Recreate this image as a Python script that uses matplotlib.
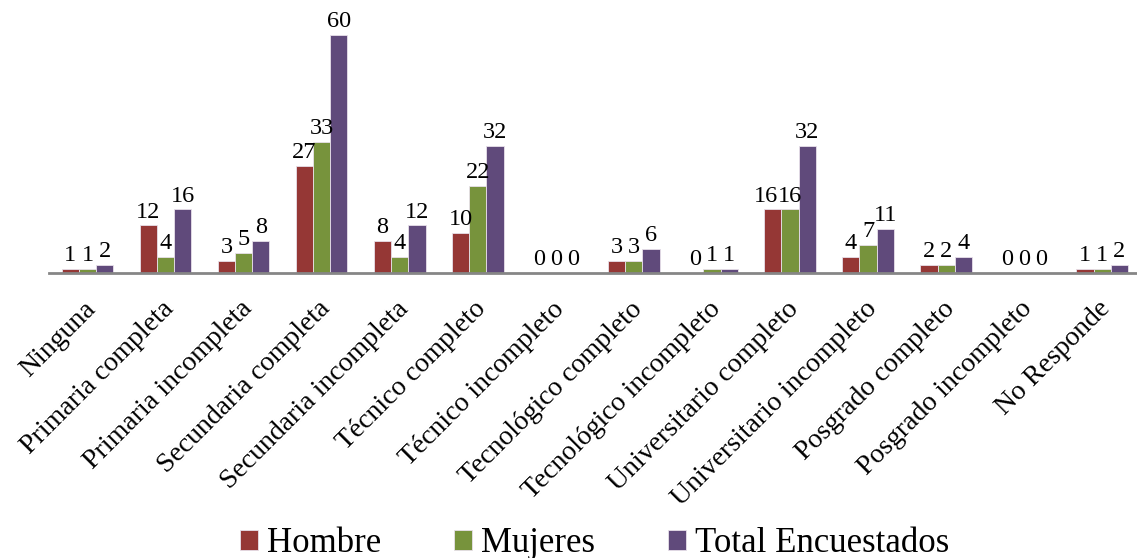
import matplotlib
matplotlib.use('Agg')
import matplotlib.pyplot as plt
import numpy as np

plt.rcParams['font.family'] = ['Liberation Serif', 'DejaVu Serif']

# data
categorias = ['Ninguna', 'Primaria completa', 'Primaria incompleta', 'Secundaria completa',
              'Secundaria incompleta', 'Técnico completo', 'Técnico incompleto',
              'Tecnológico completo', 'Tecnológico incompleto', 'Universitario completo',
              'Universitario incompleto', 'Posgrado completo', 'Posgrado incompleto',
              'No Responde']
hombre = [1, 12, 3, 27, 8, 10, 0, 3, 0, 16, 4, 2, 0, 1]
mujeres = [1, 4, 5, 33, 4, 22, 0, 3, 1, 16, 7, 2, 0, 1]
total = [2, 16, 8, 60, 12, 32, 0, 6, 1, 32, 11, 4, 0, 2]

series = [('Hombre', hombre, '#953735'),
          ('Mujeres', mujeres, '#77933C'),
          ('Total Encuestados', total, '#604A7B')]

fig = plt.figure(figsize=(11.37, 5.58), dpi=100)
# axis spans 14 categories of ~78 px, starting at x=49
ax = fig.add_axes([0.0427, 0.511, 0.961, 0.483])

x = np.arange(len(categorias))
w = 0.22
for i, (name, vals, col) in enumerate(series):
    pos = x + (i - 1) * w
    ax.bar(pos, vals, w, color=col, edgecolor='#e8e0ea', linewidth=0.6, label=name)
    for j, (p, v) in enumerate(zip(pos, vals)):
        dx = 0
        # push apart labels of equal-height neighbouring bars (like Excel does)
        if i == 0 and v >= 10 and mujeres[j] == v:
            dx = -5
        ax.annotate(str(v), xy=(p, v), xytext=(dx, 2), textcoords='offset points',
                    ha='center', va='bottom', fontsize=17.5)

ax.set_xlim(-0.5, len(categorias) - 0.5)
ax.set_ylim(0, 68)
ax.set_yticks([])
ax.set_xticks([])
for s in ['top', 'right', 'left']:
    ax.spines[s].set_visible(False)
ax.spines['bottom'].set_color('#868686')
ax.spines['bottom'].set_linewidth(2)

for xi, c in zip(x, categorias):
    ax.annotate(c, xy=(xi, 0), xytext=(-3, -17), textcoords='offset points',
                rotation=45, rotation_mode='anchor', ha='right', va='top',
                fontsize=20)

fig.legend(loc='lower center', bbox_to_anchor=(0.523, -0.06), ncol=3, frameon=False,
           fontsize=25, handlelength=0.52, handleheight=0.52, handletextpad=0.25,
           columnspacing=2.1)

fig.savefig('out.png', dpi=100)
